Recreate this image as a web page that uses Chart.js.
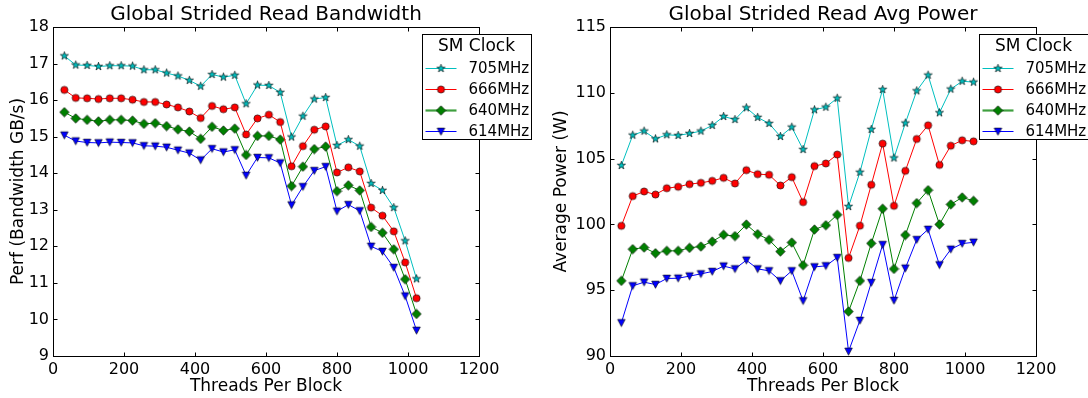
<!DOCTYPE html>
<html>
<head>
<meta charset="utf-8">
<script src="https://cdn.jsdelivr.net/npm/chart.js@4.4.1/dist/chart.umd.min.js"></script>
<style>
  html, body { margin: 0; padding: 0; background: #fff; }
  #wrap { position: relative; width: 1088px; height: 398px; }
  .panel { position: absolute; top: 0; width: 544px; height: 398px; }
</style>
</head>
<body>
<div id="wrap">
  <div class="panel" style="left:0"><canvas id="bw" width="544" height="398"></canvas></div>
  <div class="panel" style="left:544px"><canvas id="pw" width="544" height="398"></canvas></div>
</div>
<script>
// threads per block (x)
const threads = [32, 64, 96, 128, 160, 192, 224, 256, 288, 320, 352, 384, 416, 448, 480, 512,
                 544, 576, 608, 640, 672, 704, 736, 768, 800, 832, 864, 896, 928, 960, 992, 1024];

const clockLabels = ['705MHz', '666MHz', '640MHz', '614MHz'];

// bandwidth, GB/s
const bw705 = [17.21, 16.96, 16.95, 16.92, 16.94, 16.94, 16.93, 16.83, 16.83, 16.74, 16.66, 16.54, 16.38, 16.70, 16.63, 16.68,
               15.90, 16.41, 16.40, 16.21, 14.99, 15.56, 16.03, 16.07, 14.76, 14.92, 14.74, 13.72, 13.53, 13.06, 12.15, 11.11];
const bw666 = [16.28, 16.06, 16.05, 16.03, 16.05, 16.05, 16.01, 15.95, 15.95, 15.88, 15.80, 15.69, 15.51, 15.84, 15.75, 15.80,
               15.06, 15.50, 15.60, 15.40, 14.19, 14.74, 15.19, 15.28, 14.02, 14.16, 14.05, 13.06, 12.84, 12.41, 11.56, 10.58];
const bw640 = [15.67, 15.50, 15.46, 15.42, 15.46, 15.46, 15.44, 15.35, 15.37, 15.29, 15.20, 15.14, 14.94, 15.27, 15.17, 15.22,
               14.50, 15.02, 15.02, 14.92, 13.65, 14.18, 14.66, 14.73, 13.51, 13.67, 13.53, 12.53, 12.37, 11.92, 11.10, 10.15];
const bw614 = [15.04, 14.88, 14.84, 14.83, 14.85, 14.84, 14.83, 14.75, 14.74, 14.71, 14.63, 14.55, 14.36, 14.67, 14.58, 14.64,
               13.94, 14.43, 14.42, 14.28, 13.13, 13.63, 14.07, 14.18, 12.96, 13.14, 12.97, 12.00, 11.86, 11.42, 10.64, 9.70];

// average power, W
const pw705 = [104.48, 106.78, 107.09, 106.50, 106.81, 106.76, 106.91, 107.09, 107.52, 108.20, 107.97, 108.86, 108.13, 107.67, 106.68, 107.39,
               105.69, 108.71, 108.91, 109.59, 101.36, 103.96, 107.22, 110.25, 105.05, 107.70, 110.15, 111.34, 108.48, 110.28, 110.88, 110.81];
const pw666 = [99.89, 102.15, 102.50, 102.27, 102.75, 102.86, 103.06, 103.16, 103.31, 103.54, 103.11, 104.12, 103.82, 103.77, 102.96, 103.59,
               101.69, 104.43, 104.63, 105.31, 97.45, 99.90, 103.01, 106.14, 101.41, 104.07, 106.49, 107.53, 104.52, 105.98, 106.39, 106.31];
const pw640 = [95.71, 98.12, 98.24, 97.81, 97.99, 97.99, 98.22, 98.32, 98.70, 99.21, 99.11, 99.99, 99.26, 98.83, 97.94, 98.62,
               96.90, 99.61, 99.94, 100.73, 93.38, 95.71, 98.56, 101.19, 96.62, 99.19, 101.62, 102.60, 100.00, 101.52, 102.05, 101.79];
const pw614 = [92.52, 95.33, 95.61, 95.43, 95.89, 95.91, 96.07, 96.24, 96.42, 96.83, 96.62, 97.28, 96.62, 96.47, 95.71, 96.47,
               94.19, 96.77, 96.85, 97.48, 90.35, 92.70, 95.58, 98.46, 94.22, 96.67, 98.84, 99.62, 96.92, 98.11, 98.54, 98.64];

const FONT = "'DejaVu Sans', sans-serif";
Chart.defaults.font.family = FONT;
Chart.defaults.color = '#000';

// matplotlib-like markers drawn into small canvases
function marker(kind, fill) {
  const s = 11, m = s / 2;
  const c = document.createElement('canvas');
  c.width = c.height = s;
  const g = c.getContext('2d');
  g.beginPath();
  if (kind === 'star') {
    for (let i = 0; i < 10; i++) {
      const r = i % 2 ? 1.7 : 4.3;
      const a = -Math.PI / 2 + i * Math.PI / 5;
      g.lineTo(m + r * Math.cos(a), m + r * Math.sin(a));
    }
  } else if (kind === 'circle') {
    g.arc(m, m, 3.6, 0, Math.PI * 2);
  } else if (kind === 'diamond') {
    g.moveTo(m, m - 4.7); g.lineTo(m + 4.7, m); g.lineTo(m, m + 4.7); g.lineTo(m - 4.7, m);
  } else {
    g.moveTo(m - 3.8, m - 3.4); g.lineTo(m + 3.8, m - 3.4); g.lineTo(m, m + 3.8);
  }
  g.closePath();
  g.fillStyle = fill;
  g.fill();
  g.lineWidth = 0.6;
  g.strokeStyle = '#000';
  g.stroke();
  return c;
}

const styles = [
  { line: '#00bfbf', mk: marker('star', '#00bfbf'), lw: 1 },
  { line: '#ff0000', mk: marker('circle', '#ff0000'), lw: 1 },
  { line: '#008000', mk: marker('diamond', '#008000'), lw: 1, legendLw: 2.2, legendColor: '#3f9f3f' },
  { line: '#0000ff', mk: marker('tri', '#0000ff'), lw: 1 }
];

function makeSets(series) {
  return series.map((vals, i) => ({
    label: clockLabels[i],
    data: threads.map((t, k) => ({ x: t, y: vals[k] })),
    borderColor: styles[i].line,
    borderWidth: styles[i].lw,
    pointStyle: styles[i].mk,
    pointRadius: 5,
    tension: 0,
    fill: false
  }));
}

// frame with inward ticks + legend box in the upper right
const frameLegend = {
  id: 'frameLegend',
  afterDraw(chart) {
    const { ctx, chartArea: a, scales: { x, y } } = chart;
    const L = Math.round(a.left) + 0.5, R = Math.round(a.right) + 0.5;
    const T = Math.round(a.top) + 0.5, B = Math.round(a.bottom) + 0.5;
    ctx.save();
    ctx.strokeStyle = '#000';
    ctx.lineWidth = 1;
    ctx.strokeRect(L, T, R - L, B - T);
    ctx.beginPath();
    x.ticks.forEach(t => {
      const px = Math.round(x.getPixelForValue(t.value)) + 0.5;
      ctx.moveTo(px, B); ctx.lineTo(px, B - 4);
      ctx.moveTo(px, T); ctx.lineTo(px, T + 4);
    });
    y.ticks.forEach(t => {
      const py = Math.round(y.getPixelForValue(t.value)) + 0.5;
      ctx.moveTo(L, py); ctx.lineTo(L + 4, py);
      ctx.moveTo(R, py); ctx.lineTo(R - 4, py);
    });
    ctx.stroke();

    // legend
    const bx = R - 57, by = T + 7, bw = 109, bh = 105;
    ctx.fillStyle = '#fff';
    ctx.fillRect(bx, by, bw, bh);
    ctx.strokeRect(bx, by, bw, bh);
    ctx.fillStyle = '#000';
    ctx.textBaseline = 'middle';
    ctx.textAlign = 'center';
    ctx.font = '17px ' + FONT;
    ctx.fillText('SM Clock', bx + 54, by + 12);
    ctx.textAlign = 'left';
    ctx.font = '15px ' + FONT;
    chart.data.datasets.forEach((ds, i) => {
      const st = styles[i];
      const ey = Math.round(by + 33.5 + 21 * i) + 0.5;
      ctx.beginPath();
      ctx.strokeStyle = st.legendColor || st.line;
      ctx.lineWidth = st.legendLw || 1;
      ctx.moveTo(bx + 3, ey); ctx.lineTo(bx + 34, ey);
      ctx.stroke();
      ctx.drawImage(st.mk, bx + 18.5 - st.mk.width / 2, ey - st.mk.height / 2);
      ctx.fillStyle = '#000';
      ctx.fillText(ds.label, bx + 46, ey + 1);
    });
    ctx.restore();
  }
};

function makeChart(id, title, yTitle, series, yMin, yMax, yStep, yWidth, yTitlePad, padRight) {
  return new Chart(document.getElementById(id), {
    type: 'line',
    data: { datasets: makeSets(series) },
    options: {
      responsive: false,
      animation: false,
      events: [],
      layout: { padding: { left: 0, right: padRight, top: 0, bottom: 0 } },
      plugins: {
        legend: { display: false },
        tooltip: { enabled: false },
        title: {
          display: true, text: title, fullSize: false, color: '#000',
          font: { size: 20, weight: 'normal' }, padding: { top: 3, bottom: 0 }
        }
      },
      scales: {
        x: {
          type: 'linear', min: 0, max: 1200,
          grid: { display: false, drawTicks: false }, border: { display: false },
          ticks: { stepSize: 200, padding: 4, font: { size: 16 }, color: '#000', maxRotation: 0,
                   callback: v => String(v) },
          title: { display: true, text: 'Threads Per Block', font: { size: 17 }, color: '#000', padding: { top: 0, bottom: 1 } },
          afterFit(s) { s.height = 42; }
        },
        y: {
          type: 'linear', min: yMin, max: yMax,
          grid: { display: false, drawTicks: false }, border: { display: false },
          ticks: { stepSize: yStep, padding: 4, font: { size: 16 }, color: '#000', callback: v => String(v) },
          title: { display: true, text: yTitle, font: { size: 17 }, color: '#000', padding: { top: yTitlePad, bottom: 0 } },
          afterFit(s) { s.width = yWidth; }
        }
      }
    },
    plugins: [frameLegend]
  });
}

makeChart('bw', 'Global Strided Read Bandwidth', 'Perf (Bandwidth GB/s)',
  [bw705, bw666, bw640, bw614], 9, 18, 1, 53, 8, 65);
makeChart('pw', 'Global Strided Read Avg Power', 'Average Power (W)',
  [pw705, pw666, pw640, pw614], 90, 115, 5, 66, 7.5, 52);
</script>
</body>
</html>
